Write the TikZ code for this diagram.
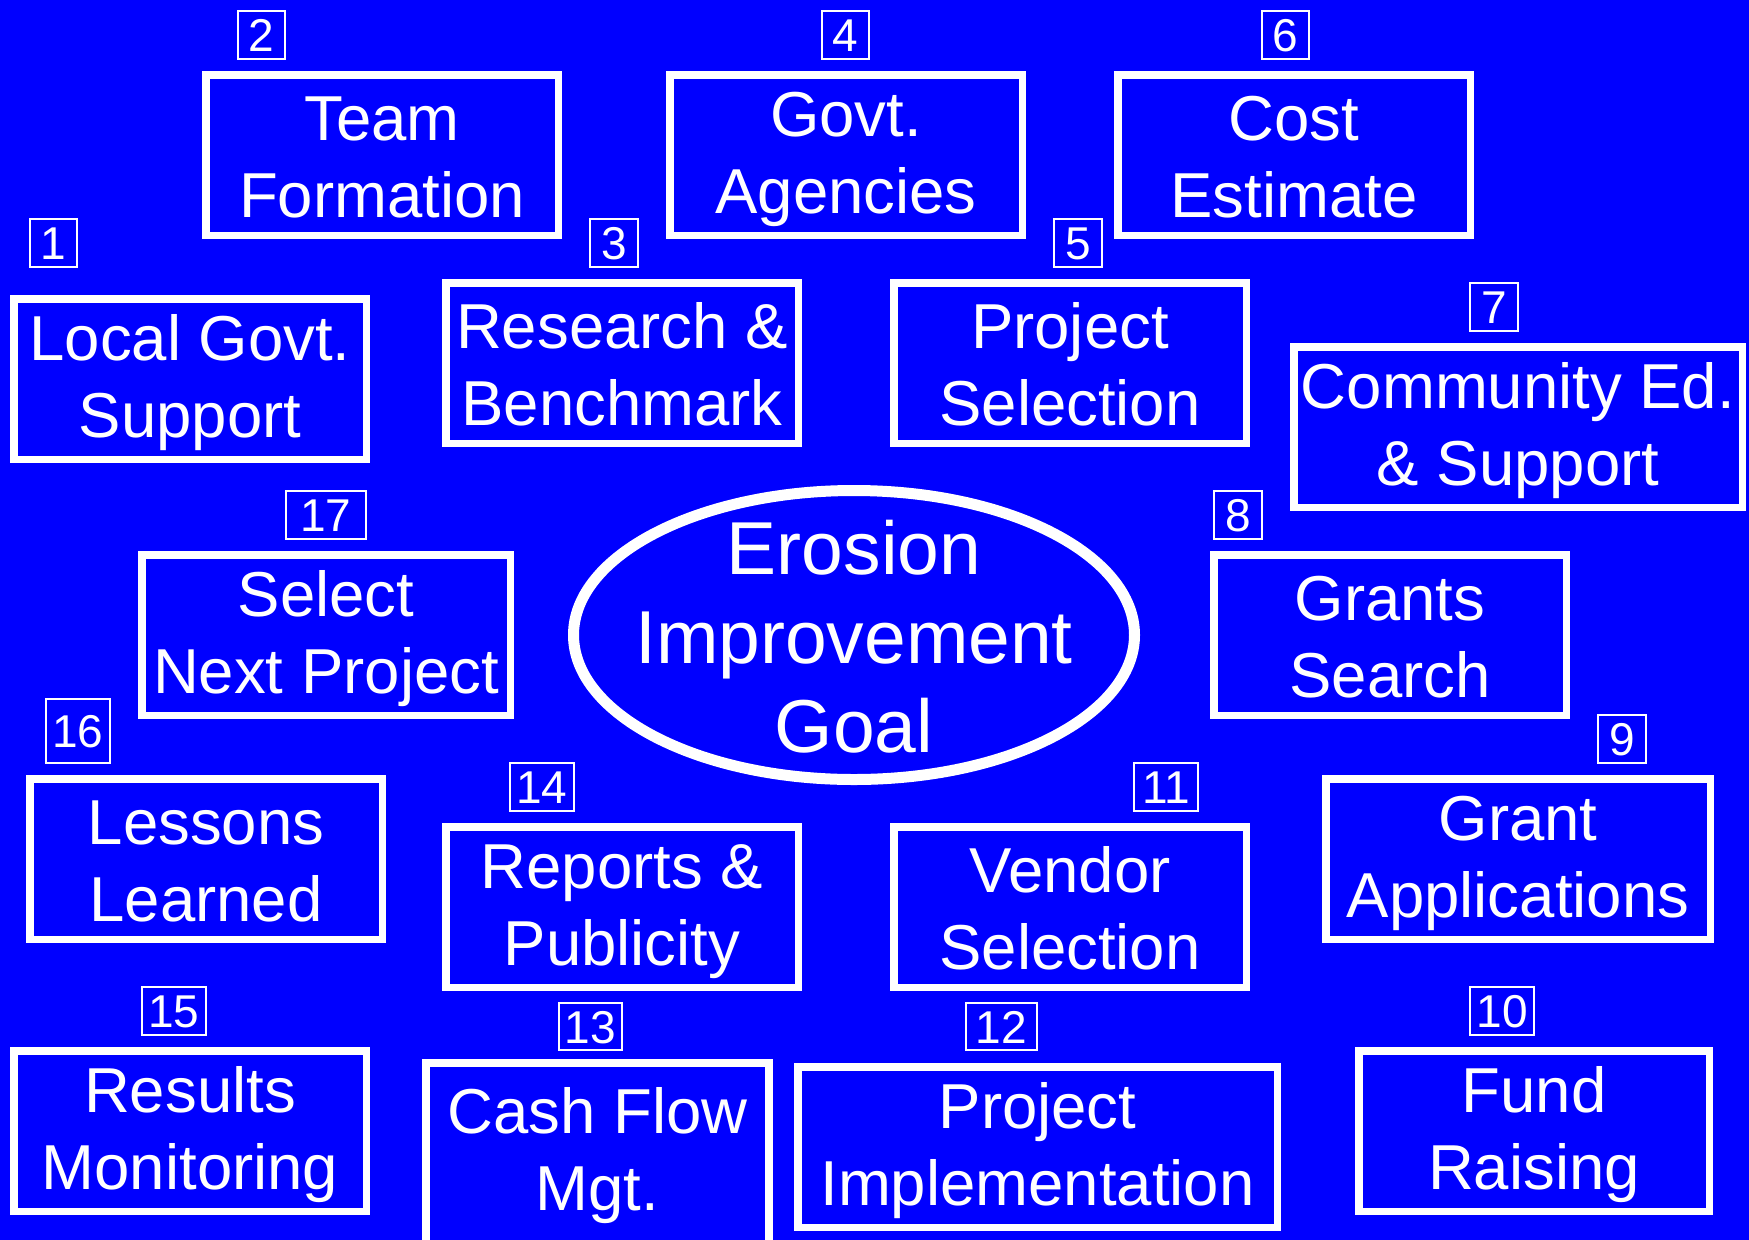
\documentclass[tikz,border=0pt]{standalone}
\usepackage{fontspec}
\setmainfont{Liberation Sans}
\usetikzlibrary{calc}
\definecolor{bgblue}{RGB}{0,0,255}
\newcommand\lstrut{\rule[-0.1em]{0pt}{0.95em}}
\tikzset{
  mainbox/.style={draw=white, line width=7.5pt, text=white, inner sep=0pt,
    align=center, font=\fontsize{63.5}{77}\selectfont},
  stdsize/.style={minimum width=352.5pt, minimum height=160.5pt},
  numbox/.style={draw=white, line width=1.6pt, text=white, inner sep=0pt,
    text height=33pt, text depth=0pt, font=\fontsize{46}{55}\selectfont,
    minimum height=48.4pt},
  goaltext/.style={text=white, inner sep=0pt, align=center,
    font=\fontsize{75}{89}\selectfont},
  goalring/.style={draw=white, line width=11pt},
  boxline/.style={draw=white, line width=7.5pt}
}
\begin{document}
\begin{tikzpicture}[x=1pt,y=-1pt]
\useasboundingbox (0,0) rectangle (1749,1240);
\fill[bgblue] (0,0) rectangle (1749,1240);
\clip (0,0) rectangle (1749,1240);

% main boxes
\node[mainbox, stdsize] (b1) at (190,379) {\lstrut Local Govt.\\\lstrut Support};
\node[mainbox, stdsize] (b2) at (382,155) {\lstrut Team\\\lstrut Formation};
\node[mainbox, stdsize] (b3) at (622,363) {\lstrut Research \&\\\lstrut Benchmark};
\node[mainbox, stdsize] (b4) at (846,155) {\lstrut Govt.\\\lstrut Agencies};
\node[mainbox, stdsize] (b5) at (1070,363) {\lstrut Project\\\lstrut Selection};
\node[mainbox, stdsize] (b6) at (1294,155) {\lstrut Cost\\\lstrut Estimate};
\node[mainbox, minimum width=448.5pt, minimum height=160.5pt] (b7) at (1518,427) {\lstrut Community Ed.\\\lstrut \& Support};
\node[mainbox, stdsize] (b8) at (1390,635) {\lstrut Grants\\\lstrut Search};
\node[mainbox, minimum width=384.5pt, minimum height=160.5pt] (b9) at (1518,859) {\lstrut Grant\\\lstrut Applications};
\node[mainbox, minimum width=350.5pt, minimum height=160.5pt] (b10) at (1534,1131) {\lstrut Fund\\\lstrut Raising};
\node[mainbox, stdsize] (b11) at (1070,907) {\lstrut Vendor\\\lstrut Selection};
\node[mainbox, minimum width=479.5pt, minimum height=160.5pt] (b12) at (1037.5,1147) {\lstrut Project\\\lstrut Implementation};
\node[mainbox, draw=none, minimum width=335.5pt, minimum height=170.5pt] (b13) at (597.5,1152) {\lstrut Cash Flow\\\lstrut Mgt.};
\draw[boxline] ($(b13.south west)+(0,30)$) |- (b13.north east) -- ($(b13.south east)+(0,30)$);
\node[mainbox, stdsize] (b14) at (622,907) {\lstrut Reports \&\\\lstrut Publicity};
\node[mainbox, stdsize] (b15) at (190,1131) {\lstrut Results\\\lstrut Monitoring};
\node[mainbox, stdsize] (b16) at (206,859) {\lstrut Lessons\\\lstrut Learned};
\node[mainbox, minimum width=368.5pt, minimum height=160.5pt] (b17) at (326,635) {\lstrut Select\\\lstrut Next Project};

% central goal
\node[goaltext] (goal) at (854,635) {\lstrut Erosion\\\lstrut Improvement\\\lstrut Goal};
\draw[goalring] (goal.center) ellipse [x radius=280.5, y radius=144.5];

% number labels
\node[numbox, minimum width=47.5pt] (n1) at (53.5,243) {1};
\node[numbox, minimum width=47.5pt] (n2) at (261.5,35) {2};
\node[numbox, minimum width=48.4pt] (n3) at (614,243) {3};
\node[numbox, minimum width=47.5pt] (n4) at (845.5,35) {4};
\node[numbox, minimum width=48.4pt] (n5) at (1078,243) {5};
\node[numbox, minimum width=47.5pt] (n6) at (1285.5,35) {6};
\node[numbox, minimum width=48.4pt] (n7) at (1494,307) {7};
\node[numbox, minimum width=48.4pt] (n8) at (1238,515) {8};
\node[numbox, minimum width=48.4pt] (n9) at (1622,739) {9};
\node[numbox, minimum width=64.4pt] (n10) at (1502,1011) {10};
\node[numbox, minimum width=64.4pt] (n11) at (1166,787) {11};
\node[numbox, minimum width=71.4pt, minimum height=47.4pt] (n12) at (1001.5,1026.5) {12};
\node[numbox, minimum width=63.4pt, minimum height=47.4pt] (n13) at (590.5,1026.5) {13};
\node[numbox, minimum width=64.4pt] (n14) at (542,787) {14};
\node[numbox, minimum width=64.4pt] (n15) at (174,1011) {15};
\node[numbox, minimum width=64.4pt, minimum height=64.4pt] (n16) at (78,731) {16};
\node[numbox, minimum width=80.4pt] (n17) at (326,515) {17};
\end{tikzpicture}
\end{document}
